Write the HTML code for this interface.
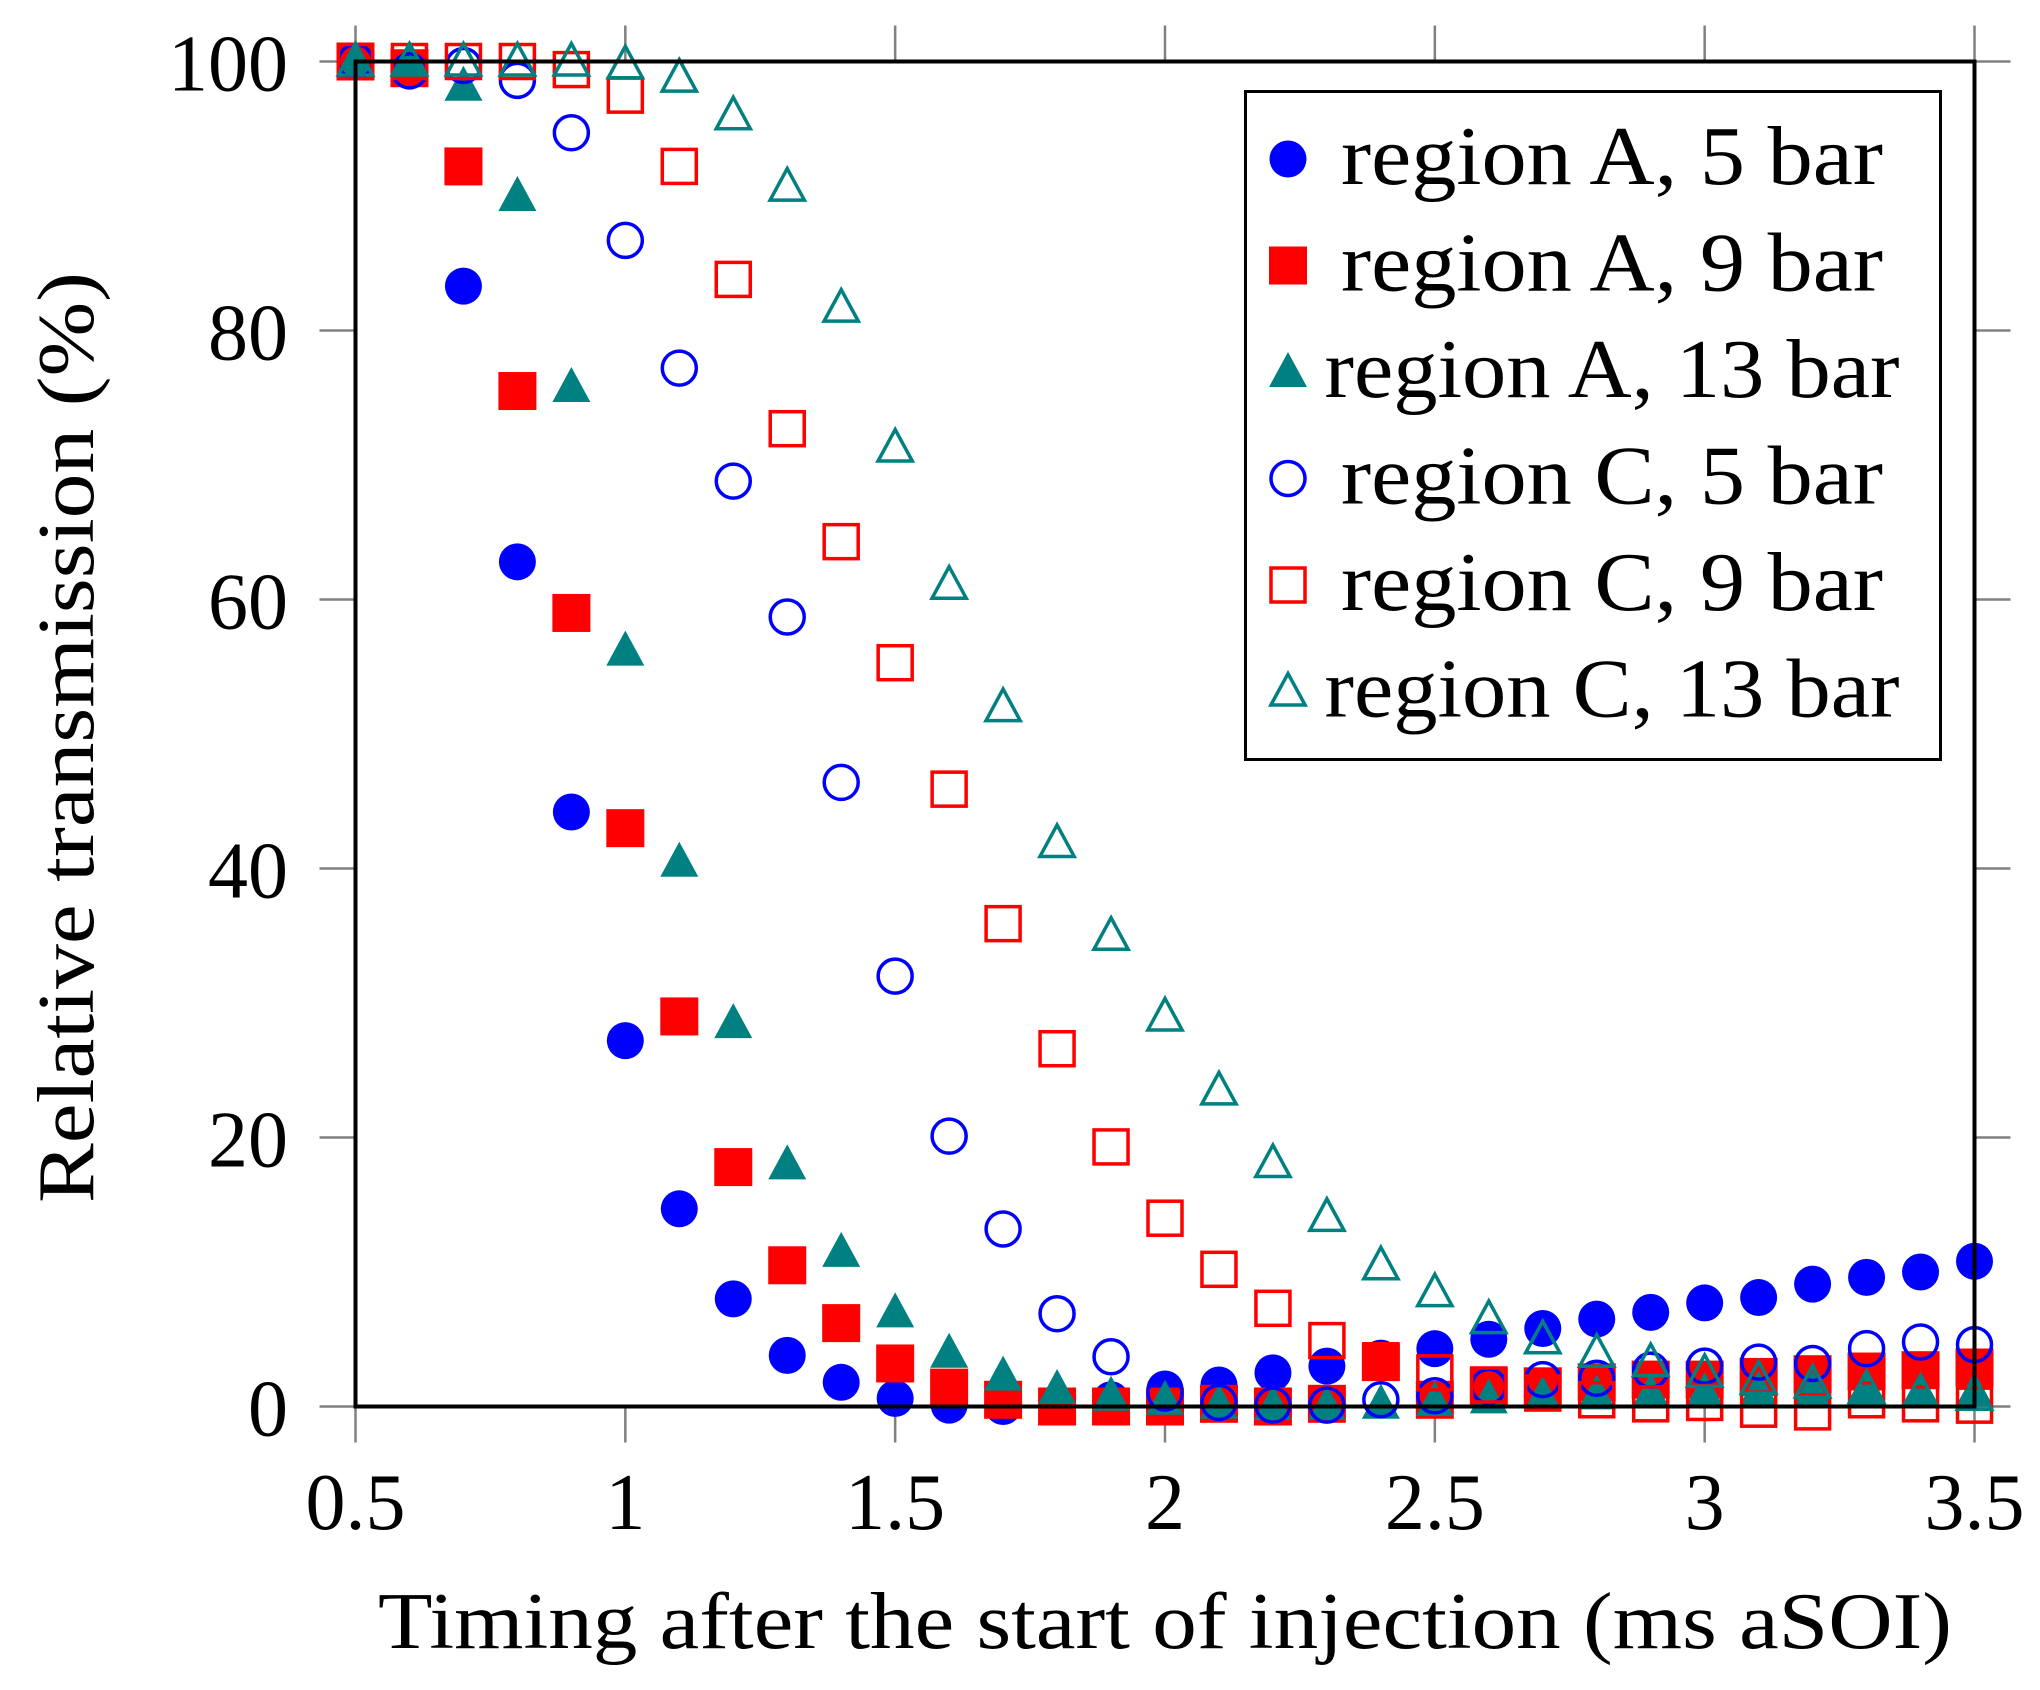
<!DOCTYPE html>
<html><head><meta charset="utf-8"><style>
html,body{margin:0;padding:0;background:#fff;}
svg{display:block;font-family:"Liberation Serif",serif;}
</style></head><body>
<svg id="chart" width="2040" height="1690" viewBox="0 0 2040 1690" xmlns="http://www.w3.org/2000/svg">
<g id="ticks"></g>
<g id="labels"></g>
<g id="marks"></g>
<rect x="355.5" y="61.5" width="1619" height="1345" fill="none" stroke="#000" stroke-width="4"/>
<text x="378" y="1648" font-size="80" textLength="1574" lengthAdjust="spacingAndGlyphs">Timing after the start of injection (ms aSOI)</text>
<text transform="translate(93,1203) rotate(-90)" x="0" y="0" font-size="80" textLength="931" lengthAdjust="spacingAndGlyphs">Relative transmission (%)</text>
<g id="legend">
<rect x="1245.5" y="91.5" width="695" height="668" fill="#fff" stroke="#000" stroke-width="3"/>
</g>
</svg>
<script>
const xValues=[0.5,0.6,0.7,0.8,0.9,1.0,1.1,1.2,1.3,1.4,1.5,1.6,1.7,1.8,1.9,2.0,2.1,2.2,2.3,2.4,2.5,2.6,2.7,2.8,2.9,3.0,3.1,3.2,3.3,3.4,3.5];
const regionA5=[100,99.5,83.3,62.8,44.2,27.2,14.7,8,3.8,1.8,0.6,0.1,0,0,0.5,1.3,1.6,2.5,3,3.6,4.3,5,5.8,6.5,7,7.7,8.1,9.1,9.6,10,10.8];
const regionA9=[100,99.5,92.2,75.5,59,43,29,17.8,10.5,6.2,3.2,1.4,0.5,0,0,0,0.2,0,0.2,3.3,0.5,1.5,1.5,1.8,2,2,2.2,2.4,2.6,2.7,2.9];
const regionA13=[100,100,98.2,90,75.8,56.2,40.5,28.5,18,11.5,7,4,2.3,1.3,0.8,0.5,0.2,0.1,0.1,0.2,0.4,0.6,0.8,0.9,1,1.1,1.2,1.2,1.2,1.1,1.1];
const regionC5=[100,99.3,99.7,98.6,94.7,86.7,77.2,68.8,58.7,46.4,32,20.1,13.2,6.9,3.7,1,0.3,0.1,0.1,0.5,0.8,1.5,2,2.1,2.7,3,3.3,3.2,4.3,4.8,4.6];
const regionC9=[100,100,100,100,99.4,97.5,92.2,83.8,72.7,64.3,55.3,45.9,35.9,26.6,19.3,14,10.2,7.3,4.9,3.4,2.5,1.6,1,0.5,0.2,0.3,-0.2,-0.4,0.5,0.2,0.1];
const regionC13=[100,100,100,100,100,99.8,98.8,96,90.7,81.7,71.3,61.1,52,41.9,35,29,23.5,18.1,14.1,10.5,8.5,6.5,5,4,3.3,2.5,2,1.7,1.3,1,0.8];
const xTicks=[0.5,1,1.5,2,2.5,3,3.5];
const xTickLabels=["0.5","1","1.5","2","2.5","3","3.5"];
const yTicks=[0,20,40,60,80,100];
const yTickLabels=["0","20","40","60","80","100"];
const legendLabels=["region A, 5 bar","region A, 9 bar","region A, 13 bar","region C, 5 bar","region C, 9 bar","region C, 13 bar"];

const NS="http://www.w3.org/2000/svg";
const L=355.5,R=1974.5,T=61.5,B=1406.5;
function sx(v){return L+(v-0.5)/3*(R-L);}
function sy(v){return B-v/100*(B-T);}
function mk(tag,attrs,parent){const e=document.createElementNS(NS,tag);for(const k in attrs)e.setAttribute(k,attrs[k]);parent.appendChild(e);return e;}
const ticks=document.getElementById('ticks'),labels=document.getElementById('labels'),marks=document.getElementById('marks'),legend=document.getElementById('legend');
xTicks.forEach((v,i)=>{
  const x=sx(v);
  let t=mk('line',{x1:x,x2:x,y1:B,y2:B+36,stroke:'#808080','stroke-width':2.5},ticks);
  
  
  t=mk('line',{x1:x,x2:x,y1:T,y2:T-36,stroke:'#808080','stroke-width':2.5},ticks);
  
  
  const lb=mk('text',{x:x,y:1529,'font-size':80,'text-anchor':'middle'},labels);
  lb.textContent=xTickLabels[i];
  
  
});
yTicks.forEach((v,i)=>{
  const y=sy(v);
  let t=mk('line',{x1:L,x2:L-36,y1:y,y2:y,stroke:'#808080','stroke-width':2.5},ticks);
  
  
  t=mk('line',{x1:R,x2:R+36,y1:y,y2:y,stroke:'#808080','stroke-width':2.5},ticks);
  
  
  const lb=mk('text',{x:288,y:y+29,'font-size':80,'text-anchor':'end'},labels);
  lb.textContent=yTickLabels[i];
  
  
});
function marker(shape,filled,color,x,y,parent){
  const fill=filled?color:'none',st=filled?'none':color,sw=filled?0:3.5;
  let e;
  if(shape==='c') e=mk('circle',{cx:x,cy:y,r:filled?18.5:17,fill:fill,stroke:st,'stroke-width':sw},parent);
  else if(shape==='s'){const h=filled?19:17;e=mk('rect',{x:x-h,y:y-h,width:2*h,height:2*h,fill:fill,stroke:st,'stroke-width':sw},parent);}
  else {const h=filled?20:18;e=mk('polygon',{points:`${x},${y-h} ${x+h*0.95},${y+h*0.75} ${x-h*0.95},${y+h*0.75}`,fill:fill,stroke:st,'stroke-width':sw},parent);}
  return e;
}
const seriesList=[[regionA5,'c',true,'#0000ff','region-a-5bar'],[regionA9,'s',true,'#ff0000','region-a-9bar'],[regionA13,'t',true,'#008080','region-a-13bar'],[regionC5,'c',false,'#0000ff','region-c-5bar'],[regionC9,'s',false,'#ff0000','region-c-9bar'],[regionC13,'t',false,'#008080','region-c-13bar']];
seriesList.forEach((s,si)=>{
  const g=mk('g',{},marks);
  
  
  s[0].forEach((v,i)=>{
    const e=marker(s[1],s[2],s[3],sx(xValues[i]),sy(v),g);
    
    
  });
  const ly=159+si*106.5;
  const lm=marker(s[1],s[2],s[3],1288,ly,legend);
  
  
  const w=legendLabels[si].indexOf('13')>=0?575:542;
  const lt=mk('text',{x:1612,y:ly+25,'font-size':84,'text-anchor':'middle',textLength:w,lengthAdjust:'spacingAndGlyphs'},legend);
  lt.textContent=legendLabels[si];
  
  
});
</script>
</body></html>
